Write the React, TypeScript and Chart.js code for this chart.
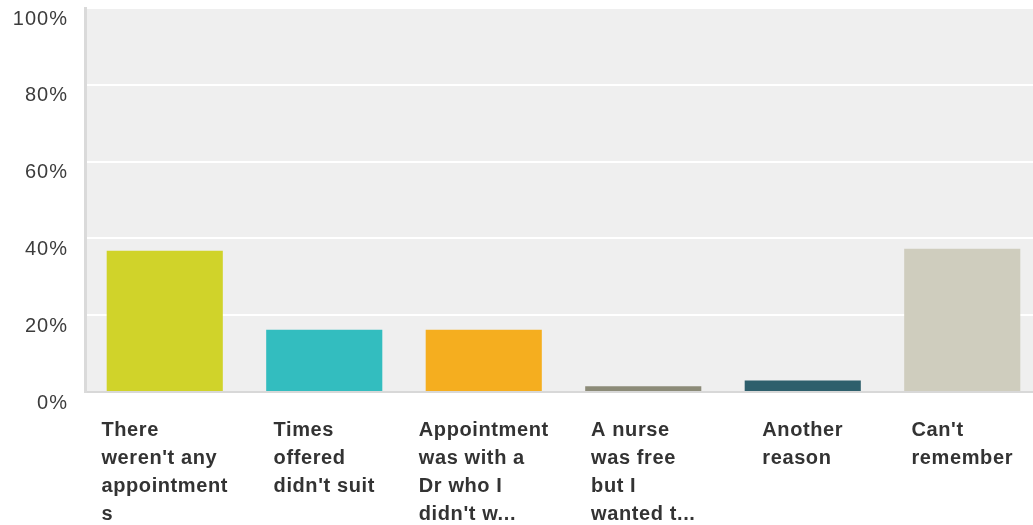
import { useEffect, useRef } from "react";
import { Chart, registerables } from "chart.js";

Chart.register(...registerables);

const categories = [
  "There weren't any appointments",
  "Times offered didn't suit",
  "Appointment was with a Dr who I didn't want",
  "A nurse was free but I wanted to see a Dr",
  "Another reason",
  "Can't remember",
];
const labelLines = [
  ["There", "weren't any", "appointment", "s"],
  ["Times", "offered", "didn't suit"],
  ["Appointment", "was with a", "Dr who I", "didn't w..."],
  ["A nurse", "was free", "but I", "wanted t..."],
  ["Another", "reason"],
  ["Can't", "remember"],
];
const values = [36.8, 16.2, 16.2, 1.5, 3.0, 37.3];
const barColors = ["#d0d32a", "#33bdbf", "#f5ae1f", "#8c8b78", "#2e5f6c", "#cfcdbe"];
const yTickValues = [0, 20, 40, 60, 80, 100];

const FONT = '"Liberation Sans", Arial, sans-serif';

const plotBg = {
  id: "plotBg",
  beforeDraw(chart: any) {
    const { ctx, chartArea } = chart;
    ctx.save();
    ctx.fillStyle = "#efefef";
    ctx.fillRect(chartArea.left, chartArea.top, chartArea.right - chartArea.left, chartArea.bottom - chartArea.top);
    ctx.restore();
    ctx.letterSpacing = "1px";
  },
};

const xLabels = {
  id: "xLabels",
  afterDraw(chart: any) {
    const { ctx, chartArea } = chart;
    const xs = chart.scales.x;
    ctx.save();
    ctx.font = `bold 20px ${FONT}`;
    ctx.letterSpacing = "0.6px";
    ctx.fillStyle = "#333333";
    ctx.textAlign = "left";
    ctx.textBaseline = "alphabetic";
    labelLines.forEach((lines, i) => {
      const cx = xs.getPixelForValue(i);
      const w = Math.max(...lines.map((l) => ctx.measureText(l).width));
      lines.forEach((l, j) => {
        ctx.fillText(l, cx - w / 2, chartArea.bottom + 44 + j * 28);
      });
    });
    ctx.restore();
  },
};

export default function App() {
  const ref = useRef<HTMLCanvasElement | null>(null);
  useEffect(() => {
    if (!ref.current) return;
    const chart = new Chart(ref.current, {
      type: "bar",
      data: {
        labels: categories,
        datasets: [
          {
            data: values,
            backgroundColor: barColors,
            borderWidth: 0,
            barPercentage: 0.728,
            categoryPercentage: 1,
          },
        ],
      },
      options: {
        animation: false,
        responsive: false,
        layout: { padding: { left: 0, right: 0, top: 8, bottom: 133 } },
        plugins: { legend: { display: false }, tooltip: { enabled: false } },
        scales: {
          x: {
            ticks: { display: false },
            grid: { display: false, drawTicks: false },
            border: { display: true, color: "#d8d8d8", width: 2 },
            afterFit: (scale: any) => {
              scale.paddingLeft = 0;
              scale.paddingRight = 0;
            },
          },
          y: {
            min: 0,
            max: 100,
            afterBuildTicks: (scale: any) => {
              scale.ticks = yTickValues.map((v) => ({ value: v }));
            },
            afterFit: (scale: any) => {
              scale.width = 85;
              scale.paddingTop = 0;
              scale.paddingBottom = 0;
            },
            ticks: {
              callback: (v: any) => v + "%",
              color: "#3c3c3c",
              font: { family: FONT, size: 20, lineHeight: 0.8 },
              padding: 17,
              labelOffset: 11,
            },
            grid: {
              color: (c: any) => (c.tick && c.tick.value === 0 ? "rgba(0,0,0,0)" : "#ffffff"),
              lineWidth: 2,
              drawTicks: false,
            },
            border: { display: true, color: "#dadada", width: 3 },
          },
        },
      },
      plugins: [plotBg, xLabels],
    });
    return () => chart.destroy();
  }, []);
  return (
    <div style={{ position: "absolute", left: 0, top: 0, width: 1033, height: 525, overflow: "hidden" }}>
      <canvas ref={ref} width={1042} height={525} style={{ display: "block" }} />
    </div>
  );
}
